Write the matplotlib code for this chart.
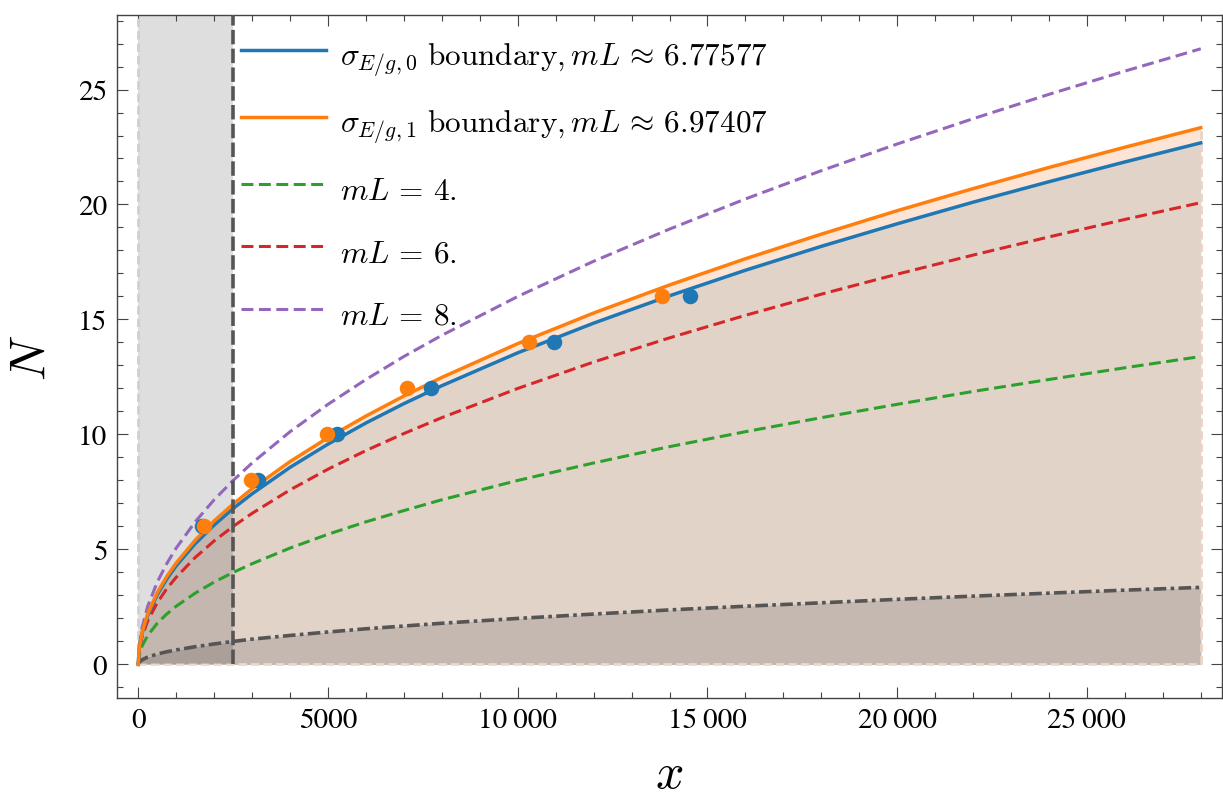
import numpy as np
import matplotlib.pyplot as plt
from matplotlib.ticker import MultipleLocator, FuncFormatter

plt.rcParams["font.family"] = ["STIXGeneral", "DejaVu Serif"]
plt.rcParams["mathtext.fontset"] = "cm"

# values, N at each x
x_grid = [0, 25, 100, 250, 500, 750, 1000, 1500, 2000, 2500, 3000, 4000, 5000,
          6000, 7000, 8000, 10000, 12000, 14000, 16000, 18000, 20000, 22000,
          24000, 26000, 28000]
n_ml1 = [0, 0.10, 0.20, 0.32, 0.45, 0.55, 0.63, 0.77, 0.89, 1.00, 1.10, 1.26,
         1.41, 1.55, 1.67, 1.79, 2.00, 2.19, 2.37, 2.53, 2.68, 2.83, 2.97,
         3.10, 3.23, 3.35]
n_ml4 = [0, 0.40, 0.80, 1.26, 1.79, 2.19, 2.53, 3.10, 3.58, 4.00, 4.38, 5.06,
         5.66, 6.20, 6.69, 7.16, 8.00, 8.76, 9.47, 10.12, 10.73, 11.31, 11.87,
         12.39, 12.90, 13.39]
n_ml6 = [0, 0.60, 1.20, 1.90, 2.68, 3.29, 3.79, 4.65, 5.37, 6.00, 6.57, 7.59,
         8.49, 9.30, 10.04, 10.73, 12.00, 13.15, 14.20, 15.18, 16.10, 16.97,
         17.80, 18.59, 19.35, 20.08]
n_ml8 = [0, 0.80, 1.60, 2.53, 3.58, 4.38, 5.06, 6.20, 7.16, 8.00, 8.76, 10.12,
         11.31, 12.39, 13.39, 14.31, 16.00, 17.53, 18.93, 20.24, 21.47, 22.63,
         23.73, 24.79, 25.80, 26.77]
n_sigma0 = [0, 0.68, 1.36, 2.14, 3.03, 3.71, 4.29, 5.25, 6.06, 6.78, 7.42, 8.57,
            9.58, 10.50, 11.34, 12.12, 13.55, 14.84, 16.03, 17.14, 18.18,
            19.16, 20.10, 20.99, 21.85, 22.68]
n_sigma1 = [0, 0.70, 1.39, 2.21, 3.12, 3.82, 4.41, 5.40, 6.24, 6.97, 7.64, 8.82,
            9.86, 10.80, 11.67, 12.48, 13.95, 15.28, 16.50, 17.64, 18.71,
            19.73, 20.69, 21.61, 22.49, 23.34]

# sample points
pts0_x = [1680, 3144, 5244, 7720, 10962, 14545]
pts0_n = [6, 8, 10, 12, 14, 16]
pts1_x = [1740, 2978, 4980, 7088, 10303, 13808]
pts1_n = [6, 8, 10, 12, 14, 16]

x_cut = 2500
labels = [
    r"$\sigma_{E/g,0}\ \mathrm{boundary}, mL \,\approx\, 6.77577$",
    r"$\sigma_{E/g,1}\ \mathrm{boundary}, mL \,\approx\, 6.97407$",
    r"$mL \,=\, 4.$",
    r"$mL \,=\, 6.$",
    r"$mL \,=\, 8.$",
]

BLUE, ORANGE, GREEN, RED, PURPLE = "#1f77b4", "#ff7f0e", "#2ca02c", "#d62728", "#9467bd"
DASH = (0, (3.9, 1.8))

W, H = 1223, 812
fig = plt.figure(figsize=(W / 100, H / 100), dpi=100)
ax = fig.add_axes([117 / W, 1 - 699 / H, (1222 - 117) / W, (699 - 16) / H])

x = np.array(x_grid)
# filled regions
ax.fill_between(x, n_sigma0, n_sigma1, color="#fde4d4", lw=0, zorder=1)
ax.fill_between(x, 0, n_sigma0, color="#e2d3c9", lw=0, zorder=1)
ax.fill_between(x, 0, n_ml1, color="#c5b8b0", lw=0, zorder=1.1)
ax.plot([0, x_grid[-1]], [0, 0], color="#e9d9cf", ls=(0, (3, 1.5)), lw=2, zorder=1.2)
ax.plot([x_grid[-1]] * 2, [0, n_sigma1[-1]], color="#e9d4c6", ls=(0, (3, 1.5)), lw=2, zorder=1.2)

# grey excluded band
ax.fill_between([0, x_cut], 0, 40, color="k", alpha=0.13, lw=0, zorder=1.5)
ax.plot([0, 0], [0, 40], color="#cfcfcf", ls=(0, (3, 1.5)), lw=2, zorder=1.6)

ax.plot(x, n_ml1, color="#555555", lw=2.6, ls=(0, (3.5, 1.2, 1, 1.2)), zorder=2)
h4, = ax.plot(x, n_ml4, color=GREEN, lw=2.2, ls=DASH, zorder=2)
h6, = ax.plot(x, n_ml6, color=RED, lw=2.2, ls=DASH, zorder=2)
h8, = ax.plot(x, n_ml8, color=PURPLE, lw=2.2, ls=DASH, zorder=2)
h0, = ax.plot(x, n_sigma0, color=BLUE, lw=2.5, zorder=3)
h1, = ax.plot(x, n_sigma1, color=ORANGE, lw=2.5, zorder=3)

ax.plot([x_cut, x_cut], [0, 40], color="#555555", lw=2.6, ls=(0, (4, 1.2)), zorder=3.5)

ax.scatter(pts0_x, pts0_n, s=125, color=BLUE, lw=0, zorder=4)
ax.scatter(pts1_x, pts1_n, s=125, color=ORANGE, lw=0, zorder=4.1)

ax.set_xlim(-560, 28560)
ax.set_ylim(-1.46, 28.24)

ax.xaxis.set_major_locator(MultipleLocator(5000))
ax.xaxis.set_minor_locator(MultipleLocator(1000))
ax.yaxis.set_major_locator(MultipleLocator(5))
ax.yaxis.set_minor_locator(MultipleLocator(1))


def fmt(v, pos):
    n = int(round(v))
    if abs(n) >= 10000:
        return f"{n:,}".replace(",", "\u2009")
    return str(n)


ax.xaxis.set_major_formatter(FuncFormatter(fmt))
ax.tick_params(which="both", direction="in", top=True, right=True, width=0.8,
               color="#444444", labelsize=21)
ax.tick_params(which="major", length=8, pad=7)
ax.tick_params(which="minor", length=4.5)
for sp in ax.spines.values():
    sp.set_color("#444444")
    sp.set_linewidth(1.0)

ax.set_xlabel(r"$x$", fontsize=36, labelpad=14)
ax.set_ylabel(r"$N$", fontsize=36, labelpad=16)

ax.legend([h0, h1, h4, h6, h8], labels, loc="upper left",
          bbox_to_anchor=(241 / W, 1 - 36 / H), bbox_transform=fig.transFigure,
          frameon=False, fontsize=22.5, handlelength=2.72, handletextpad=0.45,
          handleheight=1.5, labelspacing=0.78, borderpad=0, borderaxespad=0)

fig.savefig("out.png", dpi=100)
